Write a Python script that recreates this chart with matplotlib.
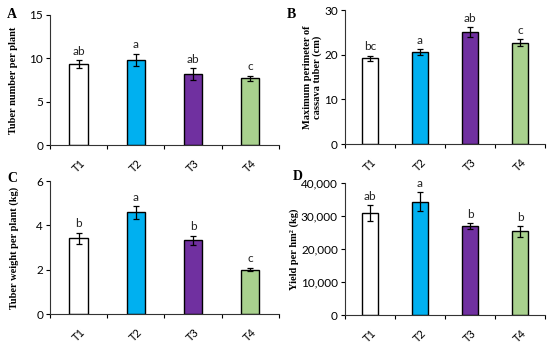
import matplotlib.pyplot as plt
import numpy as np

treatments = ["T1", "T2", "T3", "T4"]
colors = ["#FFFFFF", "#00B0F0", "#7030A0", "#A9D18E"]

# A: tuber number per plant
num_mean = [9.3, 9.85, 8.2, 7.7]
num_err = [0.45, 0.7, 0.7, 0.3]
num_sig = ["ab", "a", "ab", "c"]

# B: max perimeter (cm)
per_mean = [19.2, 20.6, 25.0, 22.7]
per_err = [0.6, 0.7, 1.1, 0.8]
per_sig = ["bc", "a", "ab", "c"]

# C: tuber weight per plant (kg)
wt_mean = [3.42, 4.59, 3.33, 2.01]
wt_err = [0.26, 0.28, 0.21, 0.08]
wt_sig = ["b", "a", "b", "c"]

# D: yield per hm2 (kg)
yld_mean = [30900, 34300, 27000, 25300]
yld_err = [2400, 2800, 900, 1600]
yld_sig = ["ab", "a", "b", "b"]

serif = "Liberation Serif"
sans = "Lato"

fig = plt.figure(figsize=(5.5, 3.47), dpi=100)


def panel(rect, mean, err, sig, ymax, step, ylabel, letter, letter_xy, ylab_x, fmt=None, bw=0.32):
    ax = fig.add_axes(rect)
    x = np.arange(len(treatments))
    ax.bar(x, mean, width=bw, color=colors, edgecolor="black", linewidth=1.0, zorder=2)
    ax.errorbar(x, mean, yerr=err, fmt="none", ecolor="black", elinewidth=0.9,
                capsize=2.5, capthick=0.9, zorder=3)
    for xi, m, e, s in zip(x, mean, err, sig):
        ax.text(xi, m + e + ymax * 0.025, s, ha="center", va="bottom",
                fontsize=8.5, family=sans, color="#222222")
    ax.set_xlim(-0.5, 3.5)
    ax.set_ylim(0, ymax)
    ticks = np.arange(0, ymax + step / 2, step)
    ax.set_yticks(ticks)
    if fmt:
        ax.set_yticklabels([fmt(t) for t in ticks])
    ax.set_xticks(x)
    ax.set_xticklabels(treatments, rotation=45, ha="center", family=sans, fontsize=8)
    ax.set_xticks(np.arange(-0.5, 4.0, 1.0), minor=True)
    ax.tick_params(axis="x", which="major", length=0, pad=9)
    ax.tick_params(axis="x", which="minor", length=3, width=0.8, direction="out")
    ax.tick_params(axis="y", length=3, width=0.8, direction="out", labelsize=8.5, pad=2)
    for lab in ax.get_yticklabels():
        lab.set_family(sans)
    for side in ["top", "right"]:
        ax.spines[side].set_visible(False)
    for side in ["left", "bottom"]:
        ax.spines[side].set_linewidth(0.8)
        ax.spines[side].set_color("#333333")
    fig.text(ylab_x, rect[1] + rect[3] / 2, ylabel, rotation=90, ha="center", va="center",
             family=serif, fontweight="bold", fontsize=7.5, linespacing=1.1)
    fig.text(letter_xy[0], letter_xy[1], letter, ha="left", va="center",
             family=serif, fontweight="bold", fontsize=10)
    return ax


panel([0.091, 0.582, 0.416, 0.375], num_mean, num_err, num_sig, 15, 5,
      "Tuber number per plant", "A", (0.013, 0.958), 0.025)
panel([0.627, 0.585, 0.364, 0.386], per_mean, per_err, per_sig, 30, 10,
      "Maximum perimeter of\ncassava tuber (cm)", "B", (0.522, 0.958), 0.568, bw=0.33)
panel([0.091, 0.095, 0.416, 0.383], wt_mean, wt_err, wt_sig, 6, 2,
      "Tuber weight per plant (kg)", "C", (0.013, 0.487), 0.025)
panel([0.627, 0.092, 0.364, 0.381], yld_mean, yld_err, yld_sig, 40000, 10000,
      "Yield per hm² (kg)", "D", (0.532, 0.49), 0.535,
      fmt=lambda t: f"{int(t):,}", bw=0.33)

fig.savefig("out.png", dpi=100)
